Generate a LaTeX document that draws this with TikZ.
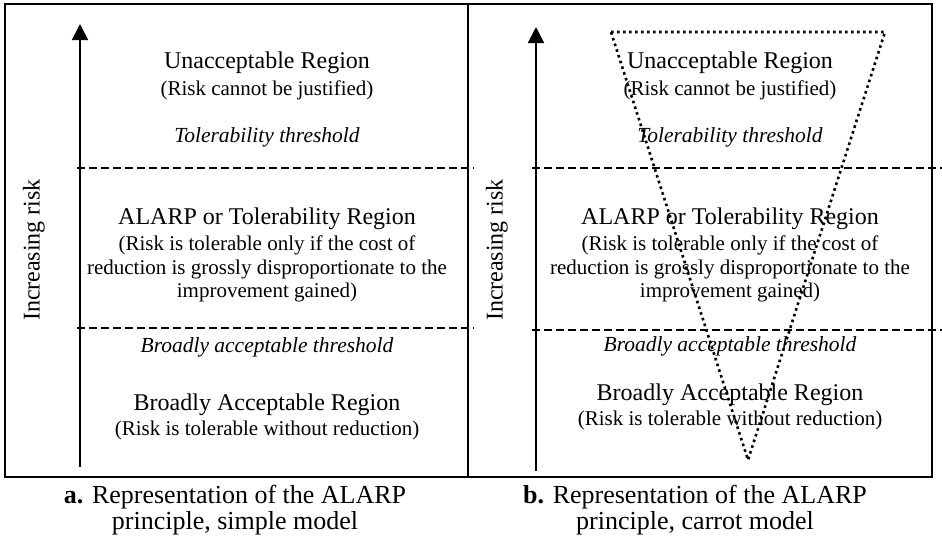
\documentclass[tikz,border=0pt]{standalone}
\usepackage{fontspec}
\setmainfont{Liberation Serif}
\usetikzlibrary{arrows.meta}
\tikzset{
  panelbox/.style={draw=black, line width=2.6pt},
  riskarrow/.style={line width=1.8pt, -{Triangle[width=16pt,length=16pt]}},
  threshline/.style={line width=2.3pt, dash pattern=on 8pt off 4pt},
  carrot/.style={line width=2.6pt, dash pattern=on 2.6pt off 3.4pt},
  title/.style={font=\fontsize{24}{28}\selectfont, align=center},
  sub/.style={font=\fontsize{21}{23.5}\selectfont, align=center},
  thr/.style={font=\fontsize{21.5}{24}\selectfont\itshape},
  axislabel/.style={font=\fontsize{24}{28}\selectfont, rotate=90},
  caption/.style={font=\fontsize{26}{26}\selectfont, align=center}
}
\begin{document}
\begin{tikzpicture}[x=1pt,y=-1pt]
\useasboundingbox (0,0) rectangle (942,542);
% boxes
\draw[panelbox] (5,4) rectangle (468,477);
\draw[panelbox] (468,4) rectangle (932,477);
% panel a
\coordinate (a0) at (80,467);
\coordinate (a1) at (80,24);
\draw[riskarrow] (a0) -- (a1);
\coordinate (ad1s) at (77,168); \coordinate (ad1e) at (474,168);
\coordinate (ad2s) at (77,328); \coordinate (ad2e) at (474,328);
\draw[threshline] (ad1s) -- (ad1e);
\draw[threshline] (ad2s) -- (ad2e);
\node[axislabel] (aax) at (34,250) {Increasing risk};
\node[title] (at1) at (267,63) {Unacceptable Region};
\node[sub] (as1) at (267,90) {(Risk cannot be justified)};
\node[thr] (ath1) at (267,137) {Tolerability threshold};
\node[title] (at2) at (267,219) {ALARP or Tolerability Region};
\node[sub] (as2) at (267,269) {(Risk is tolerable only if the cost of\\reduction is grossly disproportionate to the\\improvement gained)};
\node[thr] (ath2) at (267,347) {Broadly acceptable threshold};
\node[title] (at3) at (267,405) {Broadly Acceptable Region};
\node[sub] (as3) at (267,430) {(Risk is tolerable without reduction)};
\node[caption] (acap) at (235,510) {\textbf{a.} Representation of the ALARP\\principle, simple model};
% panel b
\coordinate (b0) at (536,471);
\coordinate (b1) at (536,27);
\draw[riskarrow] (b0) -- (b1);
\coordinate (bd1s) at (532,168); \coordinate (bd1e) at (942,168);
\coordinate (bd2s) at (532,330); \coordinate (bd2e) at (942,330);
\draw[threshline] (bd1s) -- (bd1e);
\draw[threshline] (bd2s) -- (bd2e);
\node[axislabel] (bax) at (497,250) {Increasing risk};
\coordinate (c1) at (611,32); \coordinate (c2) at (885,32); \coordinate (c3) at (748,460);
\draw[carrot] (c1) -- (c2) -- (c3) -- cycle;
\node[title] (bt1) at (730,63) {Unacceptable Region};
\node[sub] (bs1) at (730,90) {(Risk cannot be justified)};
\node[thr] (bth1) at (730,137) {Tolerability threshold};
\node[title] (bt2) at (730,219) {ALARP or Tolerability Region};
\node[sub] (bs2) at (730,269) {(Risk is tolerable only if the cost of\\reduction is grossly disproportionate to the\\improvement gained)};
\node[thr] (bth2) at (730,346) {Broadly acceptable threshold};
\node[title] (bt3) at (730,395) {Broadly Acceptable Region};
\node[sub] (bs3) at (730,420) {(Risk is tolerable without reduction)};
\node[caption] (bcap) at (695,510) {\textbf{b.} Representation of the ALARP\\principle, carrot model};
\end{tikzpicture}
\end{document}
